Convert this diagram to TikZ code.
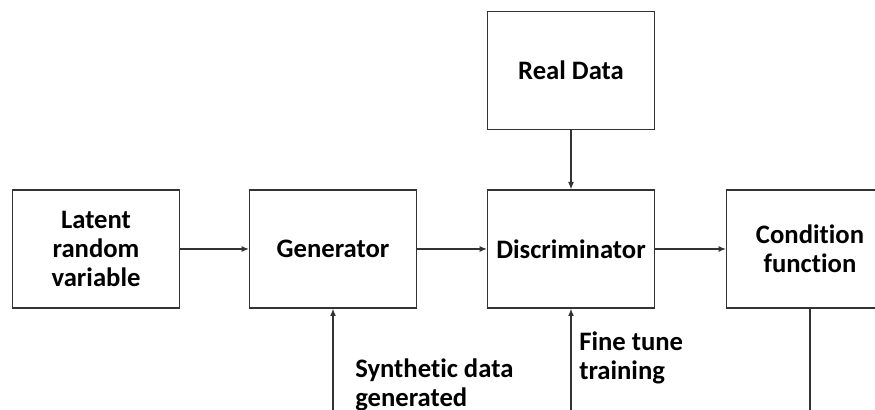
\documentclass[tikz,border=0pt]{standalone}
\usepackage{fontspec}
\setmainfont{Carlito}[Ligatures=NoCommon]
\usetikzlibrary{arrows.meta,positioning}
\tikzset{blk/.style={draw=black!80,line width=1pt,minimum width=125pt,minimum height=88.5pt,align=center,inner sep=2pt,font=\fontsize{20}{21.75}\selectfont\bfseries},
  flow/.style={-{Latex[length=5.5pt,width=4.5pt]},line width=1pt,draw=black!80},
  plain/.style={line width=1pt,draw=black!80},
  lbl/.style={align=left,inner sep=0pt,anchor=west,font=\fontsize{20}{21.75}\selectfont\bfseries}}
\begin{document}
\begin{tikzpicture}
\useasboundingbox (0,0) rectangle (656.25pt,307.5pt);
\clip (0,0) rectangle (656.25pt,307.5pt);
\node[blk] (lat) at (72pt,120.75pt) {Latent\\random\\variable};
\node[blk,right=51.75pt of lat] (gen) {Generator};
\node[blk,right=52.5pt of gen] (disc) {Discriminator};
\node[blk,right=53.25pt of disc] (cond) {Condition\\function};
\node[blk,above=44.25pt of disc] (real) {Real Data};
\coordinate (gin) at (gen.south |- 0,0);
\coordinate (din) at (disc.south |- 0,0);
\coordinate (cout) at (cond.south |- 0,0);
\draw[flow] (lat)--(gen);\draw[flow] (gen)--(disc);\draw[flow] (disc)--(cond);
\draw[flow] (real)--(disc);
\draw[flow] (gin)--(gen);\draw[flow] (din)--(disc);
\draw[plain] (cond)--(cout);
\node[lbl] (syn) at (266.25pt,18.5pt) {Synthetic data\\generated};
\node[lbl] (fine) at (434.25pt,39.375pt) {Fine tune\\training};
\end{tikzpicture}
\end{document}
